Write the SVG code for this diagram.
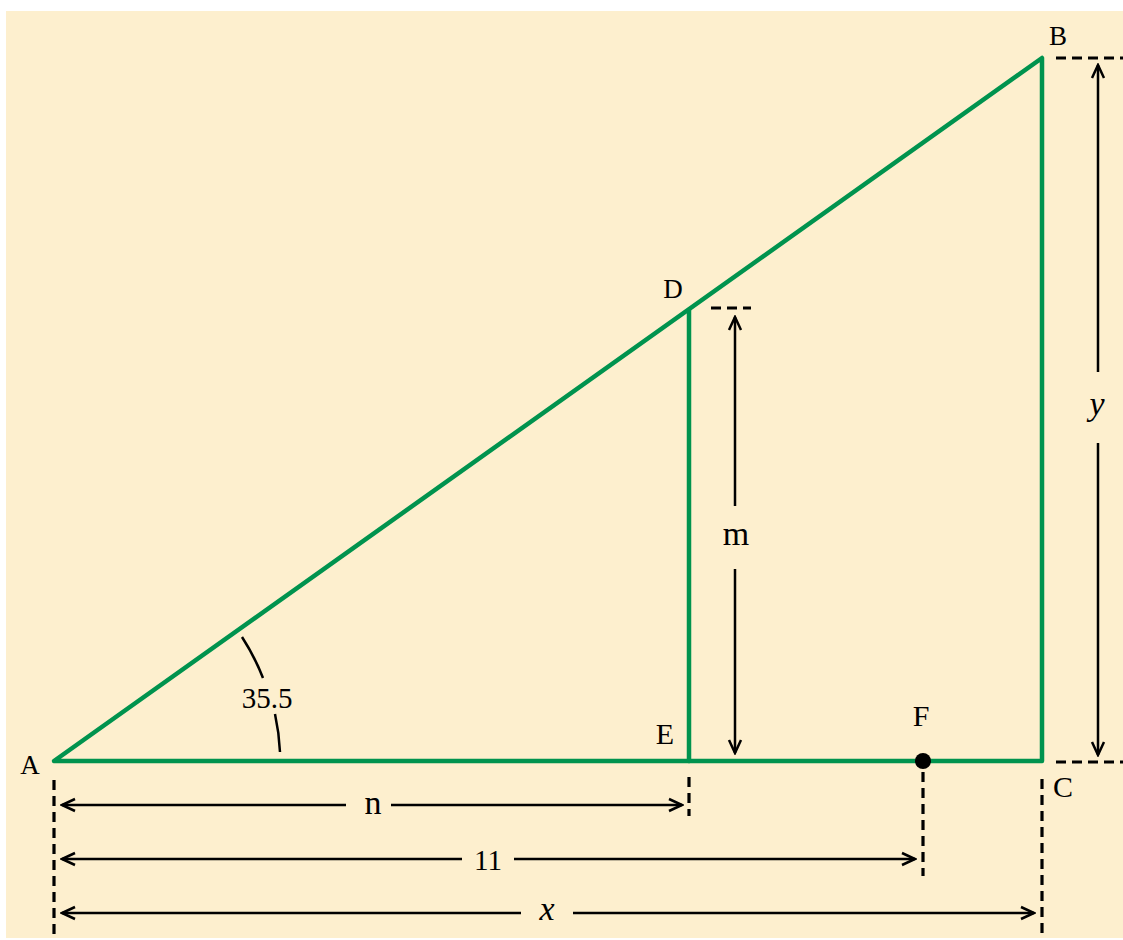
<svg xmlns="http://www.w3.org/2000/svg" width="1123" height="940" viewBox="0 0 1123 940">
<style>
.lbl{font-family:"Liberation Serif","Times New Roman",serif;fill:#000;text-anchor:middle}
.it{font-style:italic}
.edge{fill:none;stroke:#00934e;stroke-width:4.5;stroke-linejoin:round;stroke-linecap:round}
.dim{fill:none;stroke:#000;stroke-width:2.5}
.dash{fill:none;stroke:#000;stroke-width:3.2;stroke-dasharray:10,6}
</style>
<defs>
<marker id="ah" markerUnits="userSpaceOnUse" viewBox="-16 -8 18 16" refX="0" refY="0" markerWidth="18" markerHeight="16" orient="auto">
<path d="M-13,-6 L0,0 L-13,6" fill="none" stroke="#000" stroke-width="2.5"/>
</marker>
</defs>
<rect x="6" y="11" width="1117" height="927" fill="#fdefce"/>
<g id="triangle">
<path d="M54,761 L1042,58 L1042,761 Z" fill="#e0f1f0" class="edge"/>
</g>
<g id="segDE">
<path d="M689,310 L689,761" class="edge"/>
</g>
<g id="pointF">
<circle cx="923" cy="761" r="8" fill="#000"/>
</g>
<g id="angle">
<path d="M242,637 A226,226 0 0 1 263,678" class="dim" stroke-width="3"/>
<path d="M275,714 A226,226 0 0 1 280,752" class="dim" stroke-width="3"/>
<text class="lbl" x="267" y="708" font-size="29">35.5</text>
</g>
<g id="labels">
<text class="lbl" x="30" y="774" font-size="27">A</text>
<text class="lbl" x="1058" y="45" font-size="27">B</text>
<text class="lbl" x="1063" y="797" font-size="30">C</text>
<text class="lbl" x="673" y="298" font-size="27">D</text>
<text class="lbl" x="665" y="744" font-size="30">E</text>
<text class="lbl" x="921" y="726" font-size="30">F</text>
</g>
<g id="connectors">
<path class="dash" d="M54,780 L54,935"/>
<path class="dash" d="M689,777 L689,816"/>
<path class="dash" d="M923,772 L923,876"/>
<path class="dash" d="M1042,779 L1042,935"/>
<path class="dash" d="M1056,762 L1123,762"/>
<path class="dash" d="M1056,58 L1123,58"/>
<path class="dash" d="M711,308 L751,308"/>
<path class="dim" d="M346,805 L62,805" marker-end="url(#ah)"/>
<path class="dim" d="M391,805 L682,805" marker-end="url(#ah)"/>
<text class="lbl" x="373" y="814" font-size="34">n</text>
<path class="dim" d="M462,859 L62,859" marker-end="url(#ah)"/>
<path class="dim" d="M514,859 L915,859" marker-end="url(#ah)"/>
<text class="lbl" x="488" y="870" font-size="29">11</text>
<path class="dim" d="M521,913 L62,913" marker-end="url(#ah)"/>
<path class="dim" d="M573,913 L1034,913" marker-end="url(#ah)"/>
<text class="lbl it" x="547" y="920" font-size="34">x</text>
<path class="dim" d="M735,506 L735,317" marker-end="url(#ah)"/>
<path class="dim" d="M735,569 L735,753" marker-end="url(#ah)"/>
<text class="lbl" x="736" y="545" font-size="34">m</text>
<path class="dim" d="M1098,372 L1098,65" marker-end="url(#ah)"/>
<path class="dim" d="M1098,443 L1098,755" marker-end="url(#ah)"/>
<text class="lbl it" x="1097" y="415" font-size="34">y</text>
</g>
</svg>
